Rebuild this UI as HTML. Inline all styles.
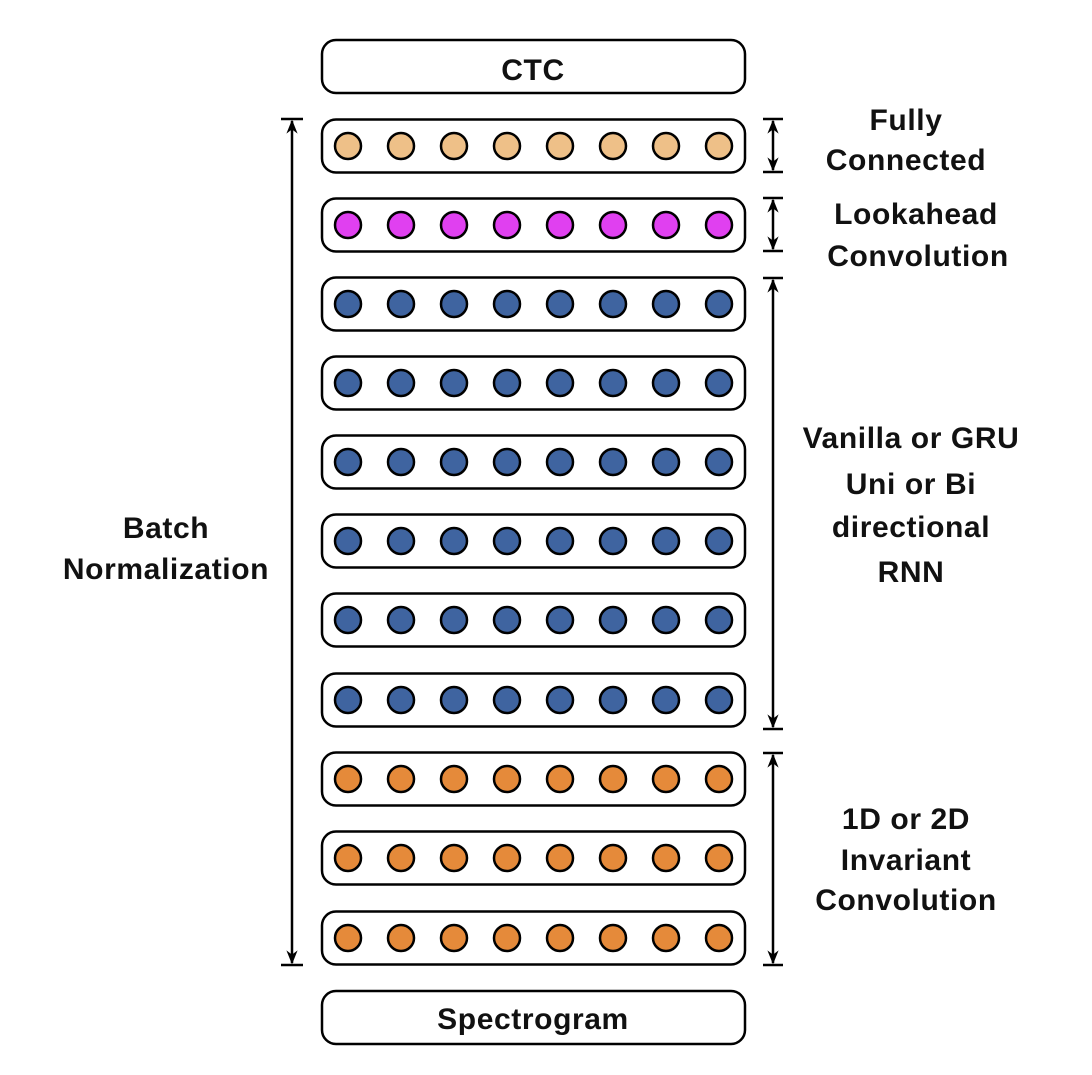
<!DOCTYPE html>
<html><head><meta charset="utf-8"><style>html,body{margin:0;padding:0;background:#fff}svg{display:block}</style></head>
<body>
<svg width="1092" height="1075" viewBox="0 0 1092 1075" xmlns="http://www.w3.org/2000/svg" font-family="Liberation Sans, sans-serif" font-size="30" fill="#111">
<defs>
<marker id="a" viewBox="0 0 10 10" refX="9" refY="5" markerWidth="20" markerHeight="14" orient="auto-start-reverse" markerUnits="userSpaceOnUse"><path d="M0,1 L10,5 L0,9 L3,5 z" fill="#000"/></marker>
</defs>
<rect x="322" y="40" width="423" height="53" rx="14" fill="#fff" stroke="#000" stroke-width="2.5"/>
<g font-weight="bold" letter-spacing="0.6" text-anchor="middle">
<text x="533" y="80">CTC</text>
<text x="533" y="1029">Spectrogram</text>
</g>
<rect x="322" y="991" width="423" height="53" rx="14" fill="none" stroke="#000" stroke-width="2.5"/>
<g id="rows" stroke="#000" stroke-width="2.5"></g>
<g stroke="#000" stroke-width="2.5">
<line x1="292" y1="121" x2="292" y2="963" marker-start="url(#a)" marker-end="url(#a)"/>
<line x1="281" y1="119" x2="303" y2="119"/><line x1="281" y1="965" x2="303" y2="965"/>
<line x1="773" y1="121" x2="773" y2="170" marker-start="url(#a)" marker-end="url(#a)"/>
<line x1="763" y1="119" x2="783" y2="119"/><line x1="763" y1="172" x2="783" y2="172"/>
<line x1="773" y1="200" x2="773" y2="249" marker-start="url(#a)" marker-end="url(#a)"/>
<line x1="763" y1="198" x2="783" y2="198"/><line x1="763" y1="251" x2="783" y2="251"/>
<line x1="773" y1="280" x2="773" y2="727" marker-start="url(#a)" marker-end="url(#a)"/>
<line x1="763" y1="278" x2="783" y2="278"/><line x1="763" y1="729" x2="783" y2="729"/>
<line x1="773" y1="755" x2="773" y2="963" marker-start="url(#a)" marker-end="url(#a)"/>
<line x1="763" y1="753" x2="783" y2="753"/><line x1="763" y1="965" x2="783" y2="965"/>
</g>
<g text-anchor="middle" font-weight="bold" letter-spacing="0.6">
<text x="906" y="130">Fully</text><text x="906" y="170">Connected</text>
<text x="916" y="224">Lookahead</text><text x="918" y="266">Convolution</text>
<text x="911" y="448">Vanilla or GRU</text><text x="911" y="494">Uni or Bi</text><text x="911" y="537">directional</text><text x="911" y="582">RNN</text>
<text x="906" y="829">1D or 2D</text><text x="906" y="870">Invariant</text><text x="906" y="910">Convolution</text>
<text x="166" y="538">Batch</text><text x="166" y="579">Normalization</text>
</g>
<script>
var g=document.getElementById('rows');var ns='http://www.w3.org/2000/svg';
var cols=['#EEC088','#E040F0','#3F64A0','#3F64A0','#3F64A0','#3F64A0','#3F64A0','#3F64A0','#E58A3A','#E58A3A','#E58A3A'];
var cys=[146,225,304,383,462,541,620,700,779,858,938];
for(var i=0;i<11;i++){var r=document.createElementNS(ns,'rect');r.setAttribute('x',322);r.setAttribute('y',cys[i]-26.5);r.setAttribute('width',423);r.setAttribute('height',53);r.setAttribute('rx',14);r.setAttribute('fill','#fff');g.appendChild(r);
for(var j=0;j<8;j++){var c=document.createElementNS(ns,'circle');c.setAttribute('cx',348+53*j);c.setAttribute('cy',cys[i]);c.setAttribute('r',13);c.setAttribute('fill',cols[i]);g.appendChild(c);}}
</script>
</svg>
</body></html>
